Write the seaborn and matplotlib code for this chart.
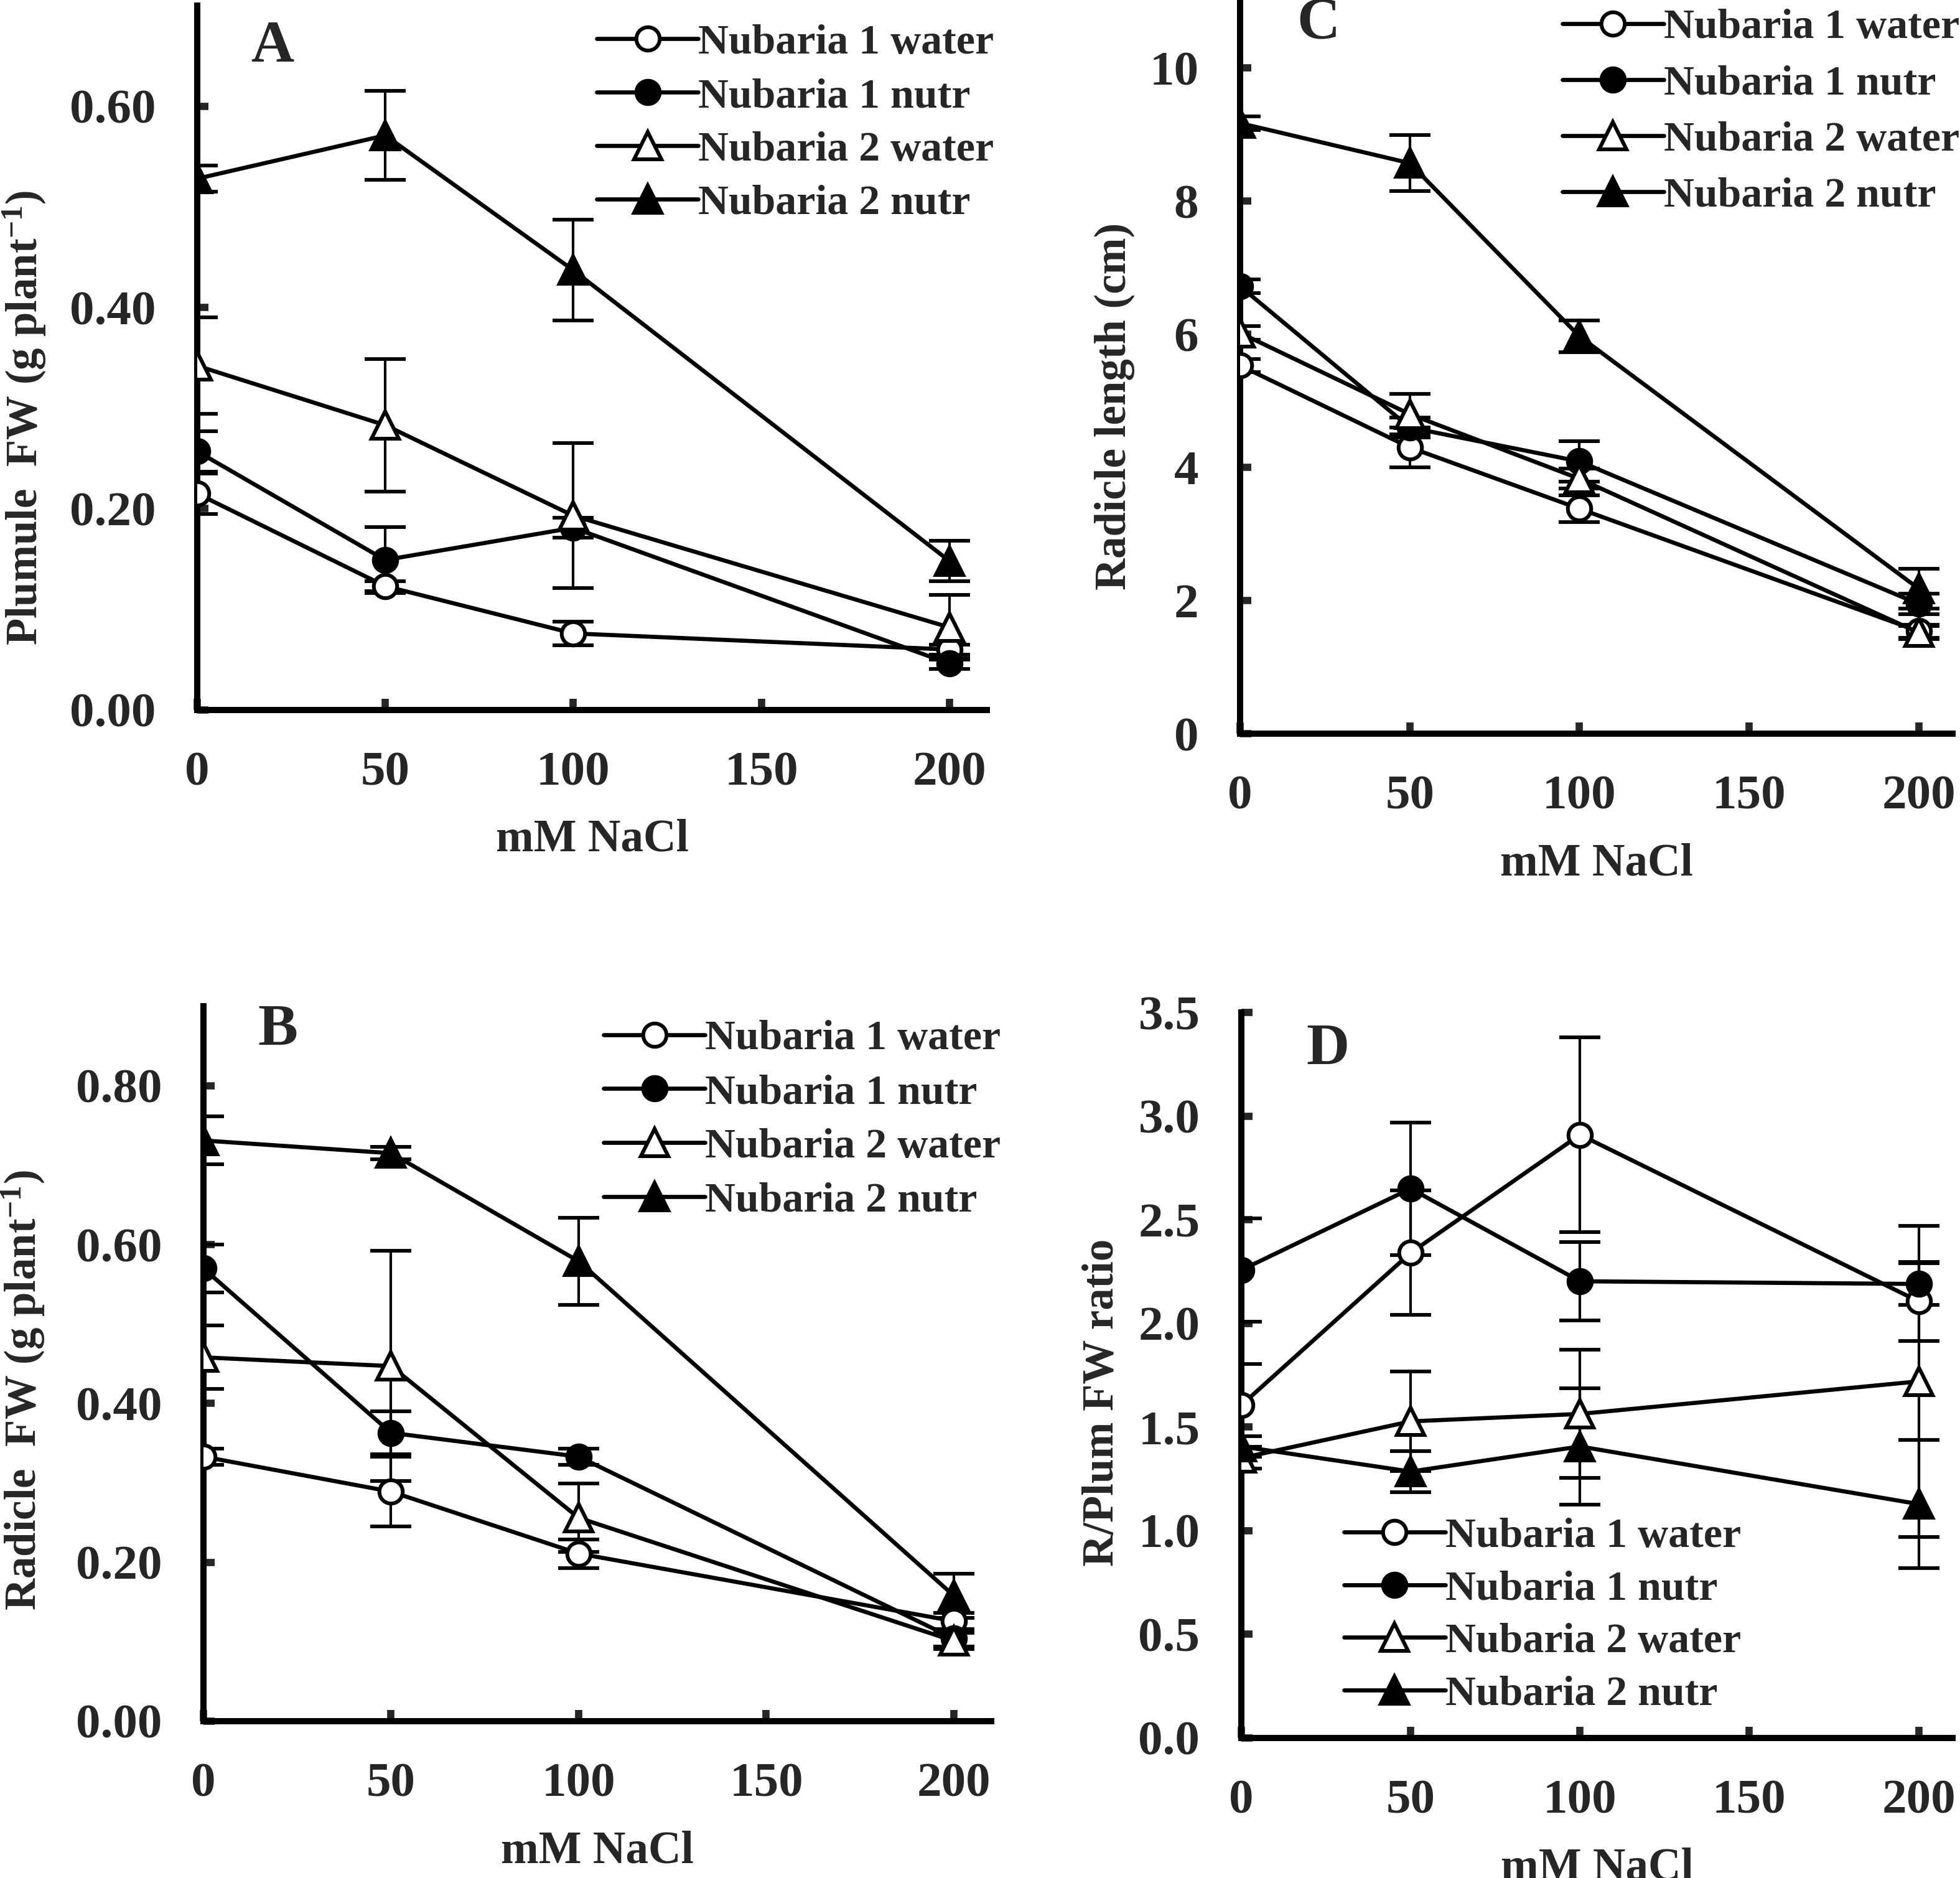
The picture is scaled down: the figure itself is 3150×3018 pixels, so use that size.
import numpy as np
import pandas as pd
import seaborn as sns
import matplotlib.pyplot as plt

# concentraciones y series
nacl = [0, 50, 100, 200]
series = ['Nubaria 1 water', 'Nubaria 1 nutr', 'Nubaria 2 water', 'Nubaria 2 nutr']

# A - Plumule FW
plum_vals = [[0.215, 0.123, 0.076, 0.060],
             [0.257, 0.149, 0.181, 0.046],
             [0.342, 0.283, 0.193, 0.082],
             [0.528, 0.571, 0.437, 0.148]]
plum_err = [[0.020, 0.005, 0.012, 0.005],
            [0.020, 0.033, 0.010, 0.005],
            [0.048, 0.066, 0.072, 0.032],
            [0.013, 0.044, 0.050, 0.020]]

# B - Radicle FW
rad_vals = [[0.333, 0.289, 0.211, 0.126],
            [0.570, 0.363, 0.333, 0.104],
            [0.458, 0.447, 0.256, 0.101],
            [0.731, 0.715, 0.579, 0.158]]
rad_err = [[0.010, 0.044, 0.018, 0.010],
           [0.030, 0.027, 0.010, 0.010],
           [0.040, 0.145, 0.043, 0.010],
           [0.030, 0.008, 0.055, 0.028]]

# C - Radicle length
len_vals = [[5.53, 4.30, 3.38, 1.54],
            [6.72, 4.60, 4.09, 1.95],
            [6.02, 4.80, 3.83, 1.52],
            [9.17, 8.57, 5.97, 2.18]]
len_err = [[0.10, 0.30, 0.20, 0.10],
           [0.10, 0.15, 0.30, 0.15],
           [0.10, 0.30, 0.15, 0.10],
           [0.10, 0.42, 0.24, 0.30]]

# D - R/Plum ratio
ratio_vals = [[1.605, 2.34, 2.91, 2.106],
              [2.257, 2.65, 2.203, 2.19],
              [1.350, 1.527, 1.563, 1.72],
              [1.406, 1.285, 1.406, 1.128]]
ratio_err = [[0.20, 0.30, 0.47, 0.19],
             [0.25, 0.32, 0.19, 0.10],
             [0.05, 0.24, 0.31, 0.75],
             [0.05, 0.10, 0.28, 0.31]]

markers = ['o', 'o', '^', '^']
faces = ['white', 'black', 'white', 'black']

sns.set_theme(style='ticks')
plt.rcParams['font.family'] = ['Liberation Serif', 'DejaVu Serif']
plt.rcParams['font.weight'] = 'bold'
plt.rcParams['axes.labelweight'] = 'bold'
plt.rcParams['mathtext.fontset'] = 'custom'
plt.rcParams['mathtext.rm'] = 'Liberation Serif:bold'
plt.rcParams['mathtext.bf'] = 'Liberation Serif:bold'
plt.rcParams['mathtext.it'] = 'Liberation Serif:bold'
plt.rcParams['mathtext.default'] = 'rm'

fig = plt.figure(figsize=(10.5, 10.06), dpi=300)

panels = [
    # rect, vals, errs, ylim, yticks, fmt, ylabel, label coords, letter, letter pos, legend anchor, spacing
    ([0.1006, 0.622, 0.403, 0.375], plum_vals, plum_err, 0.70, np.arange(0, 0.61, 0.2), '{:.2f}',
     'Plumule  FW (g plant$^{-1}$)', (-0.19, 0.415), 'A', (0.095, 0.941), (0.506, 0.974), 0.36),
    ([0.6327, 0.6093, 0.3635, 0.39], len_vals, len_err, 11.0, np.arange(0, 10.1, 2), '{:.0f}',
     'Radicle length (cm)', (-0.148, 0.447), 'C', (0.11, 0.968), (0.452, 0.99), 0.42),
    ([0.1038, 0.0835, 0.402, 0.3807], rad_vals, rad_err, 0.90, np.arange(0, 0.81, 0.2), '{:.2f}',
     'Radicle  FW (g plant$^{-1}$)', (-0.2, 0.463), 'B', (0.094, 0.965), (0.508, 0.981), 0.37),
    ([0.6333, 0.0746, 0.3629, 0.3863], ratio_vals, ratio_err, 3.5, np.arange(0, 3.51, 0.5), '{:.1f}',
     'R/Plum FW ratio', (-0.167, 0.462), 'D', (0.122, 0.948), (0.144, 0.304), 0.34),
]

for rect, vals, errs, ytop, yticks, fmt, ylab, lab_xy, letter, let_xy, leg_xy, spacing in panels:
    ax = fig.add_axes(rect)
    handles = []
    for name, v, e, m, fc in zip(series, vals, errs, markers, faces):
        ax.errorbar(nacl, v, yerr=e, fmt='none', ecolor='black',
                    elinewidth=1.0, capsize=8, capthick=1.4, zorder=2)
        sns.lineplot(x=nacl, y=v, ax=ax, color='black', lw=1.6,
                     marker=m, markersize=9 if m == 'o' else 10.5,
                     markerfacecolor=fc, markeredgecolor='black',
                     markeredgewidth=1.45, label=name, legend=False, zorder=3)
        handles.append(ax.lines[-1])

    ax.set_xlim(0, 210)
    ax.set_ylim(0, ytop)
    ax.set_xticks([0, 50, 100, 150, 200])
    ax.set_yticks(yticks)
    ax.set_yticklabels([fmt.format(t) for t in yticks])
    ax.tick_params(direction='in', length=4.4, width=2.8, labelsize=19, pad=16)
    for lbl in ax.get_xticklabels() + ax.get_yticklabels():
        lbl.set_fontweight('bold')
    for side in ['top', 'right']:
        ax.spines[side].set_visible(False)
    for side in ['left', 'bottom']:
        ax.spines[side].set_linewidth(2.4)
        ax.spines[side].set_color('black')

    ax.set_xlabel('mM NaCl', fontsize=17.5, fontweight='bold', labelpad=9)
    ax.set_ylabel(ylab, fontsize=17, fontweight='bold')
    ax.yaxis.set_label_coords(*lab_xy)

    ax.text(let_xy[0], let_xy[1], letter, transform=ax.transAxes, fontsize=23,
            fontweight='bold', ha='center', va='center')

    ax.legend(handles=handles, labels=series, loc='upper left', bbox_to_anchor=leg_xy,
              frameon=False, handlelength=2.4, handletextpad=0.0,
              labelspacing=spacing, borderpad=0, borderaxespad=0,
              prop={'weight': 'bold', 'size': 16.3})

fig.savefig('out.png', dpi=300, facecolor='white')
